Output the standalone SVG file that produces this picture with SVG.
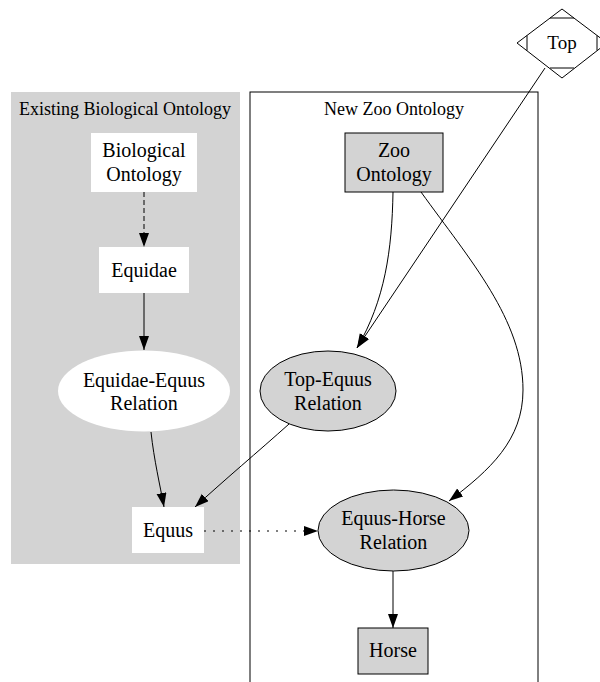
<svg xmlns="http://www.w3.org/2000/svg" width="600" height="682" viewBox="0 0 600 682">
  <style>
    .lbl { font-family: "Liberation Serif", "Times New Roman", serif; font-size: 20px; fill: #000; text-anchor: middle; }
    .clbl { font-family: "Liberation Serif", "Times New Roman", serif; font-size: 18px; fill: #000; text-anchor: middle; }
    .white { fill: #ffffff; stroke: none; }
    .grey { fill: #d3d3d3; stroke: #000; stroke-width: 1; }
    .edge { fill: none; stroke: #000; stroke-width: 1; }
    .dashed { stroke-dasharray: 5 3; }
    .dotted { stroke-dasharray: 2 7; }
  </style>
  <defs>
    <marker id="arrow" markerUnits="userSpaceOnUse" markerWidth="15" markerHeight="11" refX="14" refY="5" orient="auto">
      <path d="M0,0 L14,5 L0,10 Z" fill="#000"/>
    </marker>
  </defs>
  <rect width="600" height="682" fill="#ffffff"/>

  <!-- clusters -->
  <g id="cluster_existing">
    <rect x="11" y="92" width="229" height="472" fill="#d3d3d3"/>
    <text class="clbl" x="125" y="115">Existing Biological Ontology</text>
  </g>
  <g id="cluster_zoo">
    <rect x="250" y="92" width="288" height="620" fill="none" stroke="#000" stroke-width="1"/>
    <text class="clbl" x="394" y="115">New Zoo Ontology</text>
  </g>

  <!-- connectors -->
  <g id="edges">
    <path class="edge dashed" d="M144,192 L144,247" marker-end="url(#arrow)"/>
    <path class="edge" d="M144,293 L144,350" marker-end="url(#arrow)"/>
    <path class="edge" d="M151,432 C154,460 160,485 164,507" marker-end="url(#arrow)"/>
    <path class="edge" d="M289,424 C260,450 222,482 195,507" marker-end="url(#arrow)"/>
    <path class="edge dotted" d="M204,531 L318,531" marker-end="url(#arrow)"/>
    <path class="edge" d="M393,192 C392,250 385,300 357,348" marker-end="url(#arrow)"/>
    <path class="edge" d="M545,68 L357,348" marker-end="url(#arrow)"/>
    <path class="edge" d="M421,192 C470,260 523,320 523,390 C523,440 490,470 449,501" marker-end="url(#arrow)"/>
    <path class="edge" d="M393,571 L393,628" marker-end="url(#arrow)"/>
  </g>

  <!-- nodes -->
  <g id="top">
    <polygon points="562,9 607,43 562,78 517,43" fill="#ffffff" stroke="#000" stroke-width="1"/>
    <path d="M550,18 L574,18 M527,35.5 L527,50.5 M550,68 L574,68 M597,35.5 L597,50.5" fill="none" stroke="#000" stroke-width="1"/>
    <text class="lbl" x="562" y="49" style="font-size:19px">Top</text>
  </g>
  <g id="biological_ontology">
    <rect class="white" x="91" y="133" width="106" height="59"/>
    <text class="lbl" x="144" y="157">Biological</text>
    <text class="lbl" x="144" y="181">Ontology</text>
  </g>
  <g id="equidae">
    <rect class="white" x="99" y="247" width="90" height="46"/>
    <text class="lbl" x="144" y="277">Equidae</text>
  </g>
  <g id="equidae_equus_relation">
    <ellipse class="white" cx="144" cy="391" rx="86" ry="40.5"/>
    <text class="lbl" x="144" y="387">Equidae-Equus</text>
    <text class="lbl" x="144" y="410">Relation</text>
  </g>
  <g id="equus">
    <rect class="white" x="132" y="507" width="72" height="46"/>
    <text class="lbl" x="168" y="537">Equus</text>
  </g>
  <g id="zoo_ontology">
    <rect class="grey" x="345" y="133" width="98" height="59"/>
    <text class="lbl" x="394" y="157">Zoo</text>
    <text class="lbl" x="394" y="181">Ontology</text>
  </g>
  <g id="top_equus_relation">
    <ellipse class="grey" cx="328" cy="391" rx="68" ry="40"/>
    <text class="lbl" x="328" y="386">Top-Equus</text>
    <text class="lbl" x="328" y="410">Relation</text>
  </g>
  <g id="equus_horse_relation">
    <ellipse class="grey" cx="393.5" cy="530.5" rx="75.5" ry="40.5"/>
    <text class="lbl" x="393.5" y="525">Equus-Horse</text>
    <text class="lbl" x="393.5" y="549">Relation</text>
  </g>
  <g id="horse">
    <rect class="grey" x="358" y="628" width="70" height="46"/>
    <text class="lbl" x="393" y="657">Horse</text>
  </g>
</svg>
